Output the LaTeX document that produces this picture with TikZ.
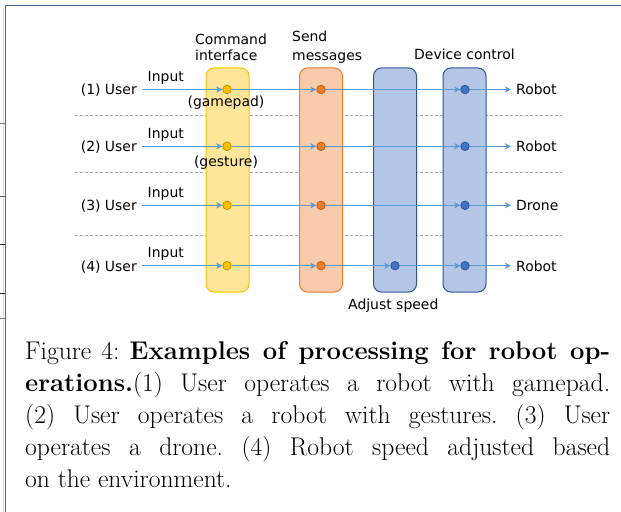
\documentclass[tikz,border=0pt]{standalone}
\usepackage{fontspec}
\newfontfamily\diagfont{DejaVu Sans}
\usetikzlibrary{arrows.meta}

\definecolor{flowblue}{RGB}{91,155,213}
\definecolor{ifill}{RGB}{255,230,153}
\definecolor{iedge}{RGB}{255,192,0}
\definecolor{idot}{RGB}{255,192,0}
\definecolor{idotedge}{RGB}{191,144,0}
\definecolor{mfill}{RGB}{248,203,173}
\definecolor{medge}{RGB}{237,125,49}
\definecolor{mdotedge}{RGB}{197,90,17}
\definecolor{cfill}{RGB}{180,199,231}
\definecolor{cedge}{RGB}{47,85,151}
\definecolor{cdot}{RGB}{68,114,196}
\definecolor{framec}{RGB}{72,102,146}
\definecolor{sepgray}{RGB}{170,170,170}

\begin{document}
\begin{tikzpicture}[x=1bp,y=-1bp,
  lbl/.style={font=\diagfont\fontsize{14}{16}\selectfont, inner sep=0pt},
  column/.style={rounded corners=8bp, line width=1bp, minimum width=43bp, minimum height=224bp, inner sep=0pt},
  dot/.style={circle, minimum size=8.5bp, inner sep=0pt, line width=0.8bp},
  idotst/.style={dot, fill=idot, draw=idotedge},
  mdotst/.style={dot, fill=medge, draw=mdotedge},
  cdotst/.style={dot, fill=cdot, draw=cedge},
  flow/.style={draw=flowblue, line width=1.3bp, -{Stealth[length=6bp,width=6bp,inset=1.5bp]}},
  sep/.style={draw=sepgray, dash pattern=on 3bp off 2bp, line width=0.8bp}
]
\useasboundingbox (0,0) rectangle (621,512);
\fill[white] (0,0) rectangle (621,512);

% frame edges and margin ticks
\draw[framec!25, line width=1bp] (3.7,8) -- (3.7,512);
\draw[framec, line width=1.5bp] (5.5,512) -- (5.5,5.5) -- (621,5.5);
\draw[gray, line width=0.9bp] (0,123) -- (5,123);
\draw[gray!80!black, line width=0.9bp] (0,196) -- (5,196);
\draw[black!85, line width=0.9bp] (0,244.5) -- (5,244.5);
\draw[black!85, line width=0.9bp] (0,293.5) -- (5,293.5);
\draw[gray, line width=0.9bp] (0,318.5) -- (5,318.5);

% row separators
\coordinate (sa1) at (75,115.5);  \coordinate (sb1) at (562,115.5);
\coordinate (sa2) at (75,172);    \coordinate (sb2) at (562,172);
\coordinate (sa3) at (75,235);    \coordinate (sb3) at (562,235);
\draw[sep] (sa1) -- (sb1);
\draw[sep] (sa2) -- (sb2);
\draw[sep] (sa3) -- (sb3);

% processing columns
\node[column, fill=ifill, draw=iedge] (colI) at (227.5,180) {};
\node[column, fill=mfill, draw=medge] (colM) at (321,180) {};
\node[column, fill=cfill, draw=cedge] (colA) at (395,180) {};
\node[column, fill=cfill, draw=cedge] (colD) at (464.5,180) {};

% column headings
\node[lbl, anchor=base west] (hI1) at (195,44.3) {Command};
\node[lbl, anchor=base west] (hI2) at (195,60.3) {interface};
\node[lbl, anchor=base west] (hM1) at (292,41.7) {Send};
\node[lbl, anchor=base west] (hM2) at (292,60.3) {messages};
\node[lbl, anchor=base west] (hD) at (414,60) {Device control};
\node[lbl, anchor=base west] (hA) at (348,309.5) {Adjust speed};

% rows: sources, dots, targets
\foreach \r/\y in {1/89.5, 2/146.3, 3/205.3, 4/265.7} {
  \coordinate (s\r) at (142,\y);
  \coordinate (e\r) at (511,\y);
  \node[idotst] (ci\r) at (227,\y) {};
  \node[mdotst] (cm\r) at (321,\y) {};
  \node[cdotst] (cd\r) at (465,\y) {};
  \node[lbl, anchor=base east] (u\r) at (137,\y+5.5) {(\r) User};
  \node[lbl, anchor=base west] (in\r) at (147.5,\y-7.8) {Input};
}
\node[cdotst] (ca4) at (395,265.7) {};

\node[lbl, anchor=base] (gp) at (226,107) {(gamepad)};
\node[lbl, anchor=base] (gs) at (226,166.7) {(gesture)};

\node[lbl, anchor=base west] (t1) at (516,95) {Robot};
\node[lbl, anchor=base west] (t2) at (516,151.8) {Robot};
\node[lbl, anchor=base west] (t3) at (516,210.8) {Drone};
\node[lbl, anchor=base west] (t4) at (516,271.2) {Robot};

% flows
\foreach \r in {1,2,3} {
  \draw[flow] (s\r) -- (ci\r);
  \draw[flow] (ci\r) -- (cm\r);
  \draw[flow] (cm\r) -- (cd\r);
  \draw[flow] (cd\r) -- (e\r);
}
\draw[flow] (s4) -- (ci4);
\draw[flow] (ci4) -- (cm4);
\draw[flow] (cm4) -- (ca4);
\draw[flow] (ca4) -- (cd4);
\draw[flow] (cd4) -- (e4);

% caption
\node[anchor=base west, inner sep=0pt] (cap) at (25,359) {\parbox[t]{585bp}{\fontsize{25.7}{32.3}\selectfont\frenchspacing
Figure 4: \textbf{Examples of processing for robot op-}\linebreak
\textbf{erations.}(1) User operates a robot with gamepad.\linebreak
(2) User operates a robot with gestures. (3) User\linebreak
operates a drone. (4) Robot speed adjusted based\linebreak
on the environment.}};
\end{tikzpicture}
\end{document}
